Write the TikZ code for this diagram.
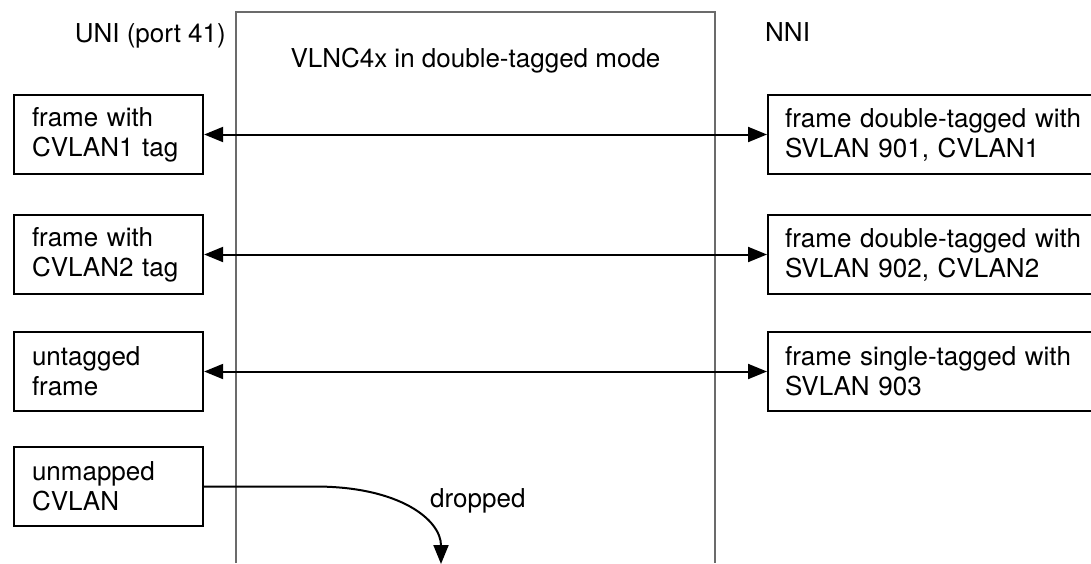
\documentclass[tikz,border=0pt]{standalone}
\usepackage{fontspec}
\setmainfont{TeX Gyre Heros}
\usetikzlibrary{arrows.meta, positioning}

\begin{document}
\begin{tikzpicture}[x=1pt,y=-1pt,
    every node/.style={font=\fontsize{26}{30}\selectfont},
    uni/.style={draw, line width=2.3pt, rectangle, minimum width=189pt,
        minimum height=79pt, text width=153pt, inner xsep=18pt,
        align=left},
    nni/.style={draw, line width=2.3pt, rectangle, anchor=west,
        minimum height=79pt, text width=306pt, inner xsep=17pt,
        align=left},
    label/.style={inner sep=0pt},
    frame/.style={draw=black!58, line width=1.4pt},
    biarrow/.style={{Triangle[length=19pt,width=15pt]}-{Triangle[length=19pt,width=15pt]},
        line width=2pt},
    droparrow/.style={-{Triangle[length=19pt,width=15pt]}, line width=2pt}]
    \useasboundingbox (0,0) rectangle (1091,563);

    % the VLNC4x box, open at the bottom
    \draw[frame] (236,563) -- (236,12) -- (715,12) -- (715,563);

    \node[label, anchor=base east] (uni) at (226,42) {UNI (port 41)};
    \node[label, anchor=base west] (nni) at (765,41) {NNI};
    \node[label, anchor=base] (vlnc) at (475.5,67) {VLNC4x in double-tagged mode};

    \node[uni] (f1) at (108.5,134.5) {frame with\\CVLAN1 tag};
    \node[uni] (f2) at (108.5,254.5) {frame with\\CVLAN2 tag};
    \node[uni] (f3) at (108.5,371.5) {untagged\\frame};
    \node[uni] (f4) at (108.5,486.5) {unmapped\\CVLAN};

    \node[nni] (t1) at (767,134.5) {frame double-tagged with\\SVLAN 901, CVLAN1};
    \node[nni] (t2) at (767,254.5) {frame double-tagged with\\SVLAN 902, CVLAN2};
    \node[nni] (t3) at (767,371.5) {frame single-tagged with\\SVLAN 903};

    \draw[biarrow] (f1) -- (t1);
    \draw[biarrow] (f2) -- (t2);
    \draw[biarrow] (f3) -- (t3);

    \coordinate (drop) at (441,564);
    \draw[droparrow] (f4.east) -- (315,486.5)
        .. controls (400,486.5) and (441,520) .. (drop);
    \node[label, anchor=base west] (dropped) at (430,507) {dropped};
\end{tikzpicture}
\end{document}
